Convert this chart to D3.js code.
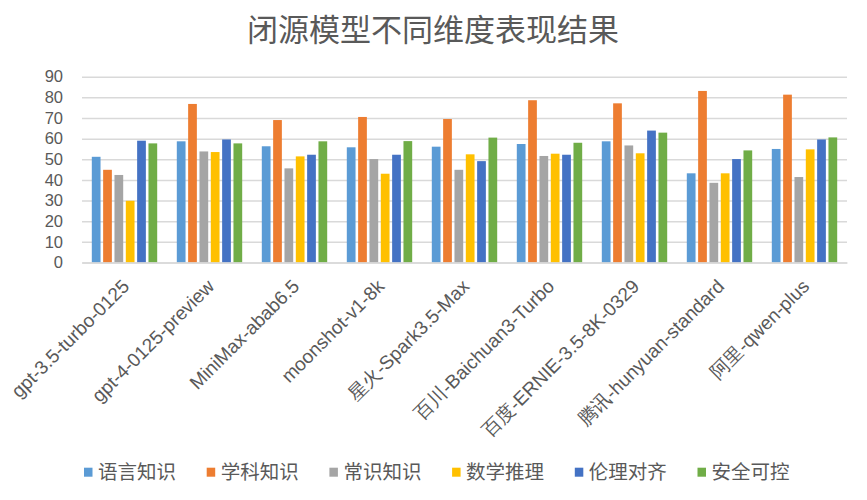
<!DOCTYPE html>
<html>
<head>
<meta charset="utf-8">
<script src="https://cdn.jsdelivr.net/npm/d3@7"></script>
<style>
  html, body { margin: 0; padding: 0; background: #fff; }
  svg { display: block; font-family: "Open Sans", "Noto Sans CJK SC", sans-serif; }
</style>
</head>
<body>
<svg id="chart" width="867" height="500"></svg>
<script>
const title = "闭源模型不同维度表现结果";
const categories = ["gpt-3.5-turbo-0125", "gpt-4-0125-preview", "MiniMax-abab6.5", "moonshot-v1-8k",
  "星火-Spark3.5-Max", "百川-Baichuan3-Turbo", "百度-ERNIE-3.5-8K-0329", "腾讯-hunyuan-standard", "阿里-qwen-plus"];
const seriesNames = ["语言知识", "学科知识", "常识知识", "数学推理", "伦理对齐", "安全可控"];
const seriesColors = ["#5B9BD5", "#ED7D31", "#A5A5A5", "#FFC000", "#4472C4", "#70AD47"];
const langKnowledge    = [51.2, 58.7, 56.3, 55.8, 56.1, 57.4, 58.7, 43.2, 55.0];
const subjectKnowledge = [44.9, 76.8, 69.0, 70.5, 69.5, 78.6, 77.1, 83.1, 81.3];
const commonKnowledge  = [42.4, 53.8, 45.6, 50.1, 44.9, 51.6, 56.7, 38.6, 41.4];
const mathReasoning    = [29.9, 53.5, 51.4, 43.0, 52.4, 52.7, 52.9, 43.2, 54.8];
const ethicsAlignment  = [59.0, 59.6, 52.2, 52.2, 49.1, 52.2, 63.9, 50.1, 59.6];
const safetyControl    = [57.7, 57.7, 58.7, 58.8, 60.5, 58.0, 62.9, 54.3, 60.6];
const yTicks = [0, 10, 20, 30, 40, 50, 60, 70, 80, 90];

const seriesValues = [langKnowledge, subjectKnowledge, commonKnowledge, mathReasoning, ethicsAlignment, safetyControl];
const rows = categories.map((c, i) => ({cat: c, vals: seriesNames.map((s, j) => ({s, v: seriesValues[j][i]}))}));

const svg = d3.select("#chart");
const plotL = 82, plotR = 847, plotT = 76.7, plotB = 262.5;
const textColor = "#595959";

const x0 = d3.scaleBand().domain(categories).range([plotL, plotR]).padding(0);
const x1 = d3.scaleBand().domain(seriesNames).range([0, x0.bandwidth()]).paddingInner(0.23).paddingOuter(0.865);
const y = d3.scaleLinear().domain([0, 90]).range([plotB, plotT]);
const color = d3.scaleOrdinal().domain(seriesNames).range(seriesColors);

// title
svg.append("text").attr("x", 433).attr("y", 41).attr("text-anchor", "middle")
  .attr("font-size", 31).attr("fill", textColor).text(title);

// gridlines + y axis
const yAxis = d3.axisLeft(y).tickValues(yTicks).tickSize(-(plotR - plotL)).tickPadding(19);
const gy = svg.append("g").attr("transform", `translate(${plotL},0)`).call(yAxis);
gy.select(".domain").remove();
gy.selectAll(".tick line").attr("stroke", "#d9d9d9").attr("stroke-width", 1.5);
gy.selectAll(".tick text").attr("font-size", 16.5).attr("fill", textColor)
  .attr("font-family", "\"Liberation Sans\", sans-serif");

// bars
const groups = svg.append("g").selectAll("g").data(rows).join("g")
  .attr("transform", d => `translate(${x0(d.cat)},0)`);
groups.selectAll("rect").data(d => d.vals).join("rect")
  .attr("x", d => x1(d.s)).attr("width", x1.bandwidth())
  .attr("y", d => y(d.v)).attr("height", d => plotB - y(d.v))
  .attr("fill", d => color(d.s));

// x axis
const xAxis = d3.axisBottom(x0).tickSize(0).tickPadding(0);
const gx = svg.append("g").attr("transform", `translate(0,${plotB})`).call(xAxis);
gx.select(".domain").attr("stroke", "#d9d9d9").attr("stroke-width", 1.5);
gx.selectAll(".tick text")
  .attr("font-size", 19).attr("fill", textColor)
  .attr("text-anchor", "end")
  .attr("dy", 0).attr("y", 0)
  .attr("transform", "translate(6,25) rotate(-45)");

// legend
const leg = svg.append("g").selectAll("g").data(seriesNames).join("g")
  .attr("transform", (d, i) => `translate(${84 + i * 122.7},0)`);
leg.append("rect").attr("x", 0).attr("y", 467.7).attr("width", 8.5).attr("height", 9)
  .attr("fill", d => color(d));
leg.append("text").attr("x", 14).attr("y", 472).attr("dy", "0.35em")
  .attr("font-size", 19.5).attr("fill", textColor).text(d => d);
</script>
</body>
</html>
